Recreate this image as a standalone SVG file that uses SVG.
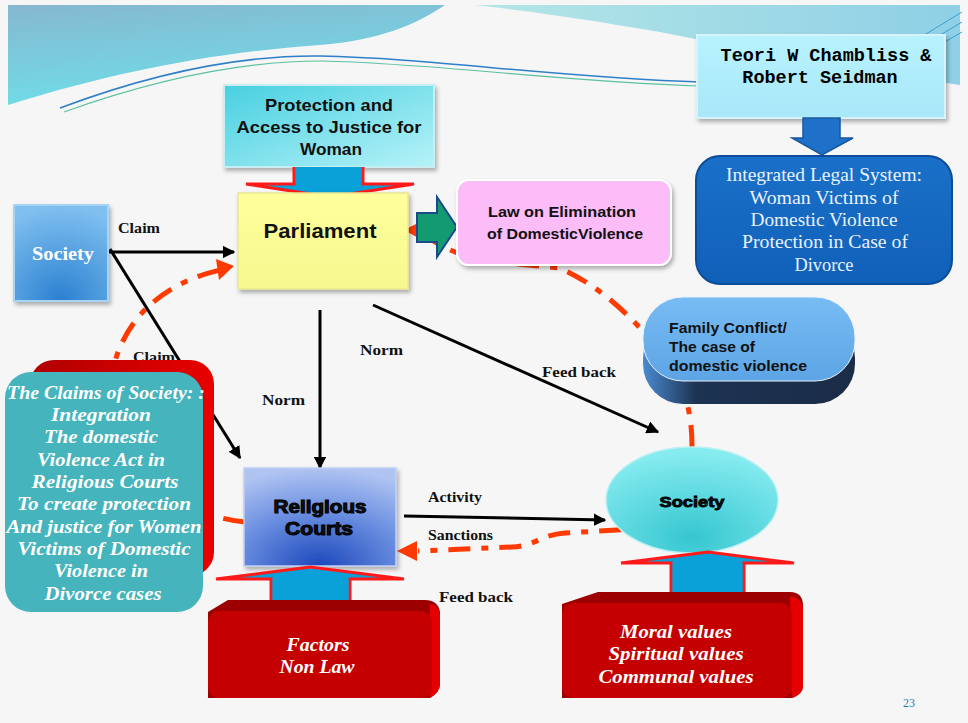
<svg xmlns="http://www.w3.org/2000/svg" width="968" height="723" viewBox="0 0 968 723">
<defs>
<style>
.lbl{font-family:"Liberation Serif","Times New Roman",serif;font-weight:bold;font-size:15.5px;fill:#111}
.sans{font-family:"Liberation Sans",Arial,sans-serif;font-weight:bold;fill:#111}
.wit{font-family:"Liberation Serif","Times New Roman",serif;font-weight:bold;font-style:italic;fill:#fff;text-anchor:middle}
.conn{stroke:#000;stroke-width:3;fill:none}
.rdash{stroke:#ff3a00;stroke-width:5;fill:none;stroke-dasharray:22 11 7 11}
.redhead{fill:#ff3a00}
.ped{fill:#0aa0d8;stroke:#ff1a1a;stroke-width:3;stroke-linejoin:miter}
</style>
<linearGradient id="hdrL" x1="0" y1="0" x2="0.3" y2="1"><stop offset="0" stop-color="#86b8d0"/><stop offset="1" stop-color="#6fdde8"/></linearGradient>
<linearGradient id="hdrR" x1="0" y1="0" x2="1" y2="0"><stop offset="0" stop-color="#b4e6e6"/><stop offset="1" stop-color="#8fd0e6"/></linearGradient>
<linearGradient id="prot" x1="0" y1="0" x2="1" y2="1"><stop offset="0" stop-color="#48d0e0"/><stop offset="1" stop-color="#b6f2f8"/></linearGradient>
<linearGradient id="teori" x1="0" y1="0" x2="0" y2="1"><stop offset="0" stop-color="#b8f2ff"/><stop offset="1" stop-color="#a8e8f8"/></linearGradient>
<linearGradient id="parl" x1="0" y1="0" x2="0" y2="1"><stop offset="0" stop-color="#ffff9c"/><stop offset="1" stop-color="#f8f890"/></linearGradient>
<radialGradient id="soc" cx="0.5" cy="1" r="1"><stop offset="0" stop-color="#2a80d0"/><stop offset="1" stop-color="#80c0f0"/></radialGradient>
<radialGradient id="rel" cx="0.5" cy="1" r="1"><stop offset="0" stop-color="#1c48bc"/><stop offset="0.55" stop-color="#6a8ee0"/><stop offset="1" stop-color="#b0c4f2"/></radialGradient>
<radialGradient id="ell" cx="0.5" cy="0.85" r="0.8"><stop offset="0" stop-color="#36c6d0"/><stop offset="1" stop-color="#86ecf0"/></radialGradient>
<linearGradient id="fam" x1="0" y1="0" x2="0" y2="1"><stop offset="0" stop-color="#78bcf4"/><stop offset="1" stop-color="#5ca4e4"/></linearGradient>
<linearGradient id="famS" x1="0" y1="0" x2="1" y2="0"><stop offset="0" stop-color="#4a8ad0"/><stop offset="0.25" stop-color="#1d3352"/><stop offset="1" stop-color="#1a2c46"/></linearGradient>
<linearGradient id="ils" x1="0" y1="0" x2="0" y2="1"><stop offset="0" stop-color="#1a70c8"/><stop offset="1" stop-color="#1060b8"/></linearGradient>
<linearGradient id="redB" x1="0" y1="0" x2="1" y2="0"><stop offset="0" stop-color="#b00000"/><stop offset="1" stop-color="#e80000"/></linearGradient>
<filter id="sh" x="-10%" y="-10%" width="130%" height="130%"><feDropShadow dx="2" dy="3" stdDeviation="2" flood-color="#000" flood-opacity="0.3"/></filter>
<marker id="ah" viewBox="0 0 10 10" refX="9" refY="5" markerWidth="4.2" markerHeight="4.2" orient="auto"><path d="M0,0 L10,5 L0,10 Z" fill="#000"/></marker>
</defs>

<rect x="0" y="0" width="968" height="723" fill="#f6f6f6"/>

<g id="header">
<path d="M8,5 L445,5 C415,25 380,40 320,45 C220,52 120,70 8,105 Z" fill="url(#hdrL)"/>
<path d="M475,5 L960,5 L960,85 C860,70 760,52 660,32 C580,18 520,10 475,5 Z" fill="url(#hdrR)"/>
<path d="M60,108 C140,78 230,55 320,56 C430,58 560,78 700,82" stroke="#2f80c8" stroke-width="1.5" fill="none"/>
<path d="M64,112 C145,83 235,61 322,61 C432,63 562,82 700,86" stroke="#5cc0a0" stroke-width="1.2" fill="none"/>
<path d="M880,62 L962,12 M895,62 L962,22 M910,62 L962,32" stroke="#3aa0d0" stroke-width="1" fill="none"/>
</g>

<g id="connectors">
<path class="rdash" d="M245,522 C150,512 95,430 116,358 C135,300 185,278 220,270"/>
<path class="redhead" d="M234,266 L216,259 L219,280 Z"/>
<path class="rdash" d="M692,447 C692,400 680,372 640,328 C608,294 585,280 560,268 C505,262 455,263 422,232"/>
<path class="redhead" d="M404,230 L422,221 L422,240 Z"/>
<path class="rdash" d="M672,527 L565,533 C540,535 535,546 512,547 L418,551"/>
<path class="redhead" d="M397,551 L417,541 L417,561 Z"/>
<line class="conn" x1="108" y1="252" x2="234" y2="252" marker-end="url(#ah)"/>
<line class="conn" x1="110" y1="249" x2="240" y2="458" marker-end="url(#ah)"/>
<line class="conn" x1="320" y1="310" x2="320" y2="468" marker-end="url(#ah)"/>
<line class="conn" x1="373" y1="305" x2="658" y2="432" marker-end="url(#ah)"/>
<line class="conn" x1="404" y1="516" x2="605" y2="520" marker-end="url(#ah)"/>
<text class="lbl" x="118" y="233" textLength="42" lengthAdjust="spacingAndGlyphs">Claim</text>
<text class="lbl" x="133" y="362" textLength="42" lengthAdjust="spacingAndGlyphs">Claim</text>
<text class="lbl" x="360" y="355" textLength="43" lengthAdjust="spacingAndGlyphs">Norm</text>
<text class="lbl" x="262" y="405" textLength="43" lengthAdjust="spacingAndGlyphs">Norm</text>
<text class="lbl" x="542" y="377" textLength="74" lengthAdjust="spacingAndGlyphs">Feed back</text>
<text class="lbl" x="428" y="502" textLength="54" lengthAdjust="spacingAndGlyphs">Activity</text>
<text class="lbl" x="428" y="540" textLength="65" lengthAdjust="spacingAndGlyphs">Sanctions</text>
<text class="lbl" x="439" y="602" textLength="74" lengthAdjust="spacingAndGlyphs">Feed back</text>
</g>

<g id="teori">
<rect x="697" y="35" width="248" height="83" fill="url(#teori)" stroke="#d8f4fa" stroke-width="2" filter="url(#sh)"/>
<text x="826" y="61" text-anchor="middle" font-family="Liberation Mono,Courier New,monospace" font-weight="bold" font-size="18.5" fill="#000">Teori W Chambliss &amp;</text>
<text x="820" y="83" text-anchor="middle" font-family="Liberation Mono,Courier New,monospace" font-weight="bold" font-size="18.5" fill="#000">Robert Seidman</text>
</g>

<g id="teori-arrow">
<path d="M803,118 L840,118 L840,138 L853,138 L822,155 L792,138 L803,138 Z" fill="#1f70c8" stroke="#18589c" stroke-width="1.5"/>
</g>

<g id="integrated">
<rect x="696" y="156" width="256" height="128" rx="24" fill="url(#ils)" stroke="#0c4c98" stroke-width="2"/>
<g font-family="Liberation Serif,Times New Roman,serif" font-size="18" fill="#eaf2ff" text-anchor="middle" lengthAdjust="spacingAndGlyphs">
<text x="824" y="181" textLength="196" lengthAdjust="spacingAndGlyphs">Integrated Legal System:</text>
<text x="824" y="204" textLength="149" lengthAdjust="spacingAndGlyphs">Woman Victims of</text>
<text x="824" y="226" textLength="147" lengthAdjust="spacingAndGlyphs">Domestic Violence</text>
<text x="825" y="248" textLength="166" lengthAdjust="spacingAndGlyphs">Protection in Case of</text>
<text x="824" y="271" textLength="59" lengthAdjust="spacingAndGlyphs">Divorce</text>
</g>
</g>

<g id="protection">
<rect x="224" y="85" width="210" height="82" fill="url(#prot)" stroke="#c8eef4" stroke-width="2" filter="url(#sh)"/>
<g class="sans" font-size="17" text-anchor="middle">
<text x="329" y="111" textLength="128" lengthAdjust="spacingAndGlyphs">Protection and</text>
<text x="329" y="133" textLength="185" lengthAdjust="spacingAndGlyphs">Access to Justice for</text>
<text x="331" y="155" textLength="62" lengthAdjust="spacingAndGlyphs">Woman</text>
</g>
</g>

<g id="prot-arrow">
<path class="ped" d="M294,167 L294,184 L246,184 L330,197 L414,184 L363,184 L363,167"/>
<path d="M295.5,167 L361.5,167 L361.5,182 L295.5,182 Z" fill="#0aa0d8"/>
</g>

<g id="parliament">
<rect x="238" y="193" width="170" height="96" fill="url(#parl)" stroke="#e8e890" stroke-width="1.5" filter="url(#sh)"/>
<text class="sans" x="320" y="238" font-size="19.5" text-anchor="middle" textLength="113" lengthAdjust="spacingAndGlyphs">Parliament</text>
</g>

<g id="green-arrow">
<path d="M417,213 L437,213 L437,197 L457,227 L437,257 L437,242 L417,242 Z" fill="#139a70" stroke="#1a4a8a" stroke-width="2"/>
</g>

<g id="law">
<rect x="457" y="180" width="214" height="85" rx="12" fill="#fbbcf8" stroke="#ffffff" stroke-width="2" filter="url(#sh)"/>
<g class="sans" font-size="15" text-anchor="middle">
<text x="562" y="217" textLength="148" lengthAdjust="spacingAndGlyphs">Law on  Elimination</text>
<text x="565" y="239" textLength="156" lengthAdjust="spacingAndGlyphs">of DomesticViolence</text>
</g>
</g>

<g id="society-left">
<rect x="14" y="205" width="94" height="96" fill="url(#soc)" stroke="#a8d4f4" stroke-width="2" filter="url(#sh)"/>
<text x="63" y="260" text-anchor="middle" font-family="Liberation Serif,Times New Roman,serif" font-weight="bold" font-size="18.5" fill="#fff" textLength="62" lengthAdjust="spacingAndGlyphs">Society</text>
</g>

<g id="claims">
<rect x="30" y="360" width="184" height="216" rx="24" fill="url(#redB)"/>
<rect x="5" y="372" width="198" height="240" rx="26" fill="#45b4bc"/>
<g class="wit" font-size="19">
<text x="106" y="399" textLength="198" lengthAdjust="spacingAndGlyphs">The Claims of Society: :</text>
<text x="101" y="421" textLength="100" lengthAdjust="spacingAndGlyphs">Integration</text>
<text x="101" y="443" textLength="114" lengthAdjust="spacingAndGlyphs">The domestic</text>
<text x="101" y="466" textLength="128" lengthAdjust="spacingAndGlyphs">Violence Act in</text>
<text x="105" y="488" textLength="147" lengthAdjust="spacingAndGlyphs">Religious  Courts</text>
<text x="104" y="510" textLength="174" lengthAdjust="spacingAndGlyphs">To create protection</text>
<text x="104" y="533" textLength="195" lengthAdjust="spacingAndGlyphs">And justice for Women</text>
<text x="104" y="555" textLength="173" lengthAdjust="spacingAndGlyphs">Victims of Domestic</text>
<text x="101" y="577" textLength="94" lengthAdjust="spacingAndGlyphs">Violence in</text>
<text x="103" y="600" textLength="117" lengthAdjust="spacingAndGlyphs">Divorce cases</text>
</g>
</g>

<g id="family">
<rect x="643" y="318" width="212" height="86" rx="40" fill="url(#famS)"/>
<rect x="643" y="297" width="212" height="84" rx="40" fill="url(#fam)" stroke="#e8f2fc" stroke-width="1"/>
<g class="sans" font-size="15">
<text x="669" y="333" textLength="118" lengthAdjust="spacingAndGlyphs">Family Conflict/</text>
<text x="669" y="352" textLength="86" lengthAdjust="spacingAndGlyphs">The case of</text>
<text x="669" y="371" textLength="138" lengthAdjust="spacingAndGlyphs">domestic violence</text>
</g>
</g>

<g id="religious-courts">
<rect x="244" y="468" width="152" height="98" fill="url(#rel)" stroke="#c0d0f4" stroke-width="1.5" filter="url(#sh)"/>
<g class="sans" font-size="17.5" text-anchor="middle" stroke="#000" stroke-width="1">
<text x="320" y="513" textLength="93" lengthAdjust="spacingAndGlyphs">Religious</text>
<text x="319" y="535" textLength="68" lengthAdjust="spacingAndGlyphs">Courts</text>
</g>
</g>

<g id="society-ellipse">
<ellipse cx="692" cy="500" rx="86" ry="53" fill="url(#ell)" stroke="#b8f0f4" stroke-width="1.5"/>
<text class="sans" x="692" y="507" font-size="15.5" text-anchor="middle" stroke="#000" stroke-width="0.9" textLength="65" lengthAdjust="spacingAndGlyphs">Society</text>
</g>

<g id="courts-pedestal">
<path class="ped" d="M271,600 L271,579 L216,579 L310,567 L404,579 L350,579 L350,600"/>
<rect x="272.5" y="580" width="76" height="20" fill="#0aa0d8"/>
</g>

<g id="society-pedestal">
<path class="ped" d="M671,592 L671,563 L621,563 L708,552 L794,563 L744,563 L744,592"/>
<rect x="672.5" y="564" width="70" height="28" fill="#0aa0d8"/>
</g>

<g id="factors">
<path d="M208,612 L228,600 L425,600 Q438,600 440,612 L440,684 Q440,692 430,698 L208,698 Z" fill="#9c0000"/>
<path d="M430,604 Q440,606 440,616 L440,684 Q440,692 430,698 Z" fill="#e40000"/>
<rect x="208" y="611" width="224" height="87" rx="12" fill="#c40000"/>
<g class="wit" font-size="18.5">
<text x="318" y="651" textLength="63" lengthAdjust="spacingAndGlyphs">Factors</text>
<text x="317" y="673" textLength="75" lengthAdjust="spacingAndGlyphs">Non Law</text>
</g>
</g>

<g id="values">
<path d="M562,604 L598,592 L790,592 Q803,592 803,606 L803,686 Q803,694 792,698 L562,698 Z" fill="#9c0000"/>
<path d="M790,596 Q803,598 803,610 L803,686 Q803,694 792,698 Z" fill="#e40000"/>
<rect x="562" y="603" width="230" height="95" rx="12" fill="#c40000"/>
<g class="wit" font-size="19">
<text x="676" y="638" textLength="112" lengthAdjust="spacingAndGlyphs">Moral values</text>
<text x="676" y="660" textLength="135" lengthAdjust="spacingAndGlyphs">Spiritual values</text>
<text x="676" y="683" textLength="155" lengthAdjust="spacingAndGlyphs">Communal values</text>
</g>
</g>

<text x="903" y="707" font-family="Liberation Serif,Times New Roman,serif" font-size="12" fill="#2f7ea8">23</text>
</svg>
